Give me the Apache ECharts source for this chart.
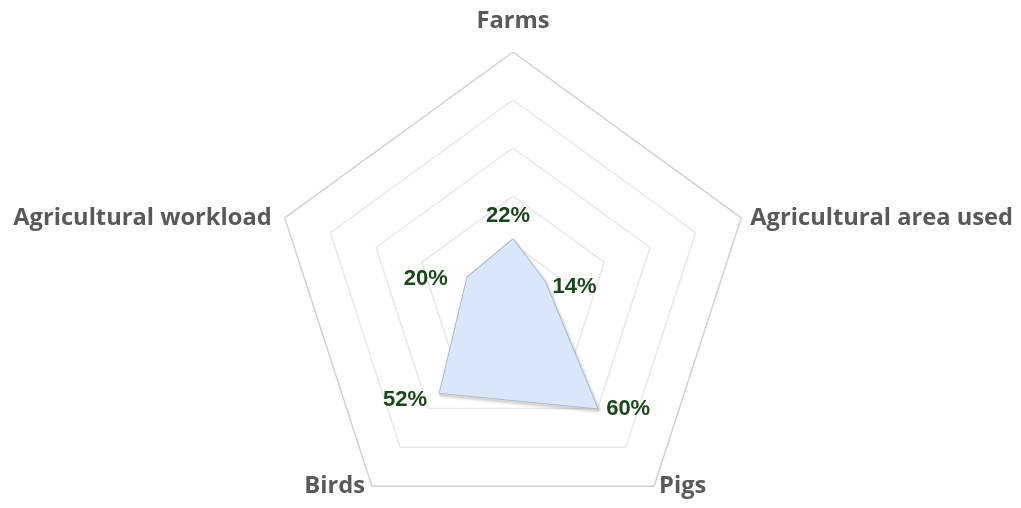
<!DOCTYPE html>
<html>
<head>
<meta charset="utf-8">
<script src="https://cdn.jsdelivr.net/npm/echarts@6/dist/echarts.min.js"></script>
<style>
  html, body { margin: 0; padding: 0; background: #fff; }
  #chart { width: 1021px; height: 508px; }
</style>
</head>
<body>
<div id="chart"></div>
<script>
// indicators listed counter-clockwise from the top, as ECharts lays them out
const indicatorNames = ['Farms', 'Agricultural workload', 'Birds', 'Pigs', 'Agricultural area used']
const shares = [22, 20, 52, 60, 14]
const maxShare = 100

// rich style used for each axis name
const nameStyleKey = ['top', 'left', 'birds', 'pigs', 'right']

// where each value label sits relative to its point
const labelPlace = [
  { position: 'top', distance: 12, offset: [-5, 0] },
  { position: 'left', distance: 19, offset: [0, 2] },
  { position: 'left', distance: 12, offset: [0, 7] },
  { position: 'right', distance: 8, offset: [0, 0] },
  { position: 'right', distance: 7, offset: [0, 5] }
]

const chart = echarts.init(document.getElementById('chart'))

const labelSeries = shares.map((v, i) => ({
  type: 'radar',
  silent: true,
  symbol: 'circle',
  symbolSize: 1,
  itemStyle: { color: 'rgba(0,0,0,0)' },
  lineStyle: { opacity: 0 },
  z: 5,
  data: [{
    value: shares,
    label: {
      show: true,
      position: labelPlace[i].position,
      distance: labelPlace[i].distance,
      offset: labelPlace[i].offset,
      color: '#1b461b',
      fontFamily: 'Liberation Sans',
      fontWeight: 'bold',
      fontSize: 22,
      formatter: (p) => (p.dimensionIndex === i ? shares[i] + '%' : '')
    }
  }]
}))

const option = {
  animation: false,
  radar: {
    center: [513, 292],
    radius: 240,
    startAngle: 90,
    splitNumber: 5,
    shape: 'polygon',
    indicator: indicatorNames.map(name => ({ name, max: maxShare, min: 0 })),
    nameGap: 0,
    axisName: {
      color: '#595959',
      fontFamily: 'Open Sans',
      fontWeight: 'bold',
      fontSize: 23.7,
      formatter: (name) => {
        const k = nameStyleKey[indicatorNames.indexOf(name)]
        return '{' + k + '|' + name + '}'
      },
      rich: {
        top: { lineHeight: 62 },
        left: { lineHeight: 6, padding: [0, 13, 0, 0] },
        right: { lineHeight: 6, padding: [0, 0, 0, 9] },
        birds: { lineHeight: 14, padding: [0, 7, 0, 0] },
        pigs: { lineHeight: 14, padding: [0, 0, 0, 5] }
      }
    },
    axisLine: { show: false },
    axisTick: { show: false },
    axisLabel: { show: false },
    splitArea: { show: false },
    splitLine: {
      lineStyle: {
        color: ['#e8e8e8', '#e8e8e8', '#e8e8e8', '#e8e8e8', '#e8e8e8', '#d2d2d2'],
        width: 1.5
      }
    }
  },
  series: [
    {
      type: 'radar',
      symbol: 'none',
      z: 3,
      lineStyle: {
        color: '#a3adbf',
        width: 1.5,
        shadowColor: 'rgba(0,0,0,0.4)',
        shadowBlur: 3,
        shadowOffsetX: 1,
        shadowOffsetY: 2
      },
      areaStyle: {
        color: '#d9e7fa',
        opacity: 1
      },
      data: [{ value: shares }]
    },
    ...labelSeries
  ]
}

chart.setOption(option)
</script>
</body>
</html>
